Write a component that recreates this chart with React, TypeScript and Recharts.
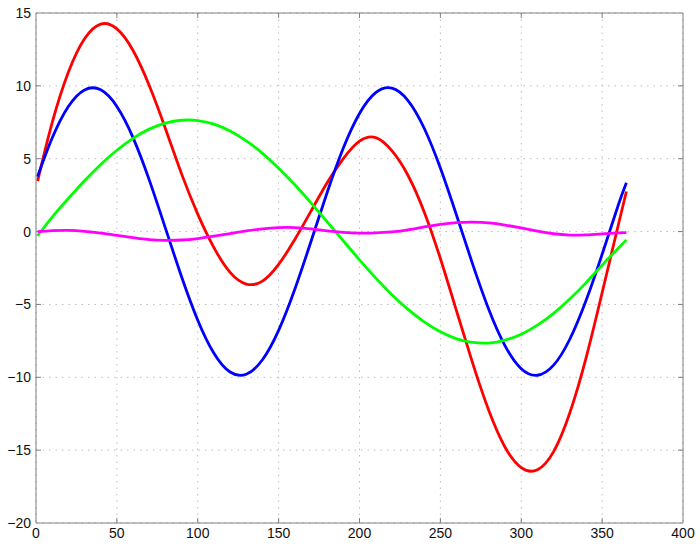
import React from "react";
import { CartesianGrid, Line, LineChart, ReferenceLine, XAxis, YAxis } from "recharts";

const days = [1, 10, 20, 30, 40, 50, 60, 70, 80, 90, 100, 110, 120, 130, 140, 150, 160, 170, 180, 190, 200, 210, 220, 230, 240, 250, 260, 270, 280, 290, 300, 310, 320, 330, 340, 350, 360, 365];

const total = [3.46, 7.47, 10.93, 13.23, 14.24, 13.91, 12.43, 10.03, 7.08, 3.96, 1.2, -1.1, -2.8, -3.6, -3.4, -2.25, -0.55, 1.4, 3.35, 5.0, 6.2, 6.45, 5.55, 3.85, 1.35, -1.85, -5.45, -9.05, -12.3, -14.8, -16.2, -16.35, -15.1, -12.45, -8.7, -4.2, 0.45, 2.75];

const obliquity = [3.78, 6.42, 8.58, 9.72, 9.73, 8.59, 6.45, 3.55, 0.24, -3.1, -6.08, -8.35, -9.64, -9.79, -8.8, -6.78, -3.96, -0.68, 2.68, 5.73, 8.1, 9.53, 9.84, 8.99, 7.09, 4.36, 1.12, -2.25, -5.36, -7.84, -9.41, -9.86, -9.17, -7.39, -4.75, -1.56, 1.82, 3.35];

const eccentricity = [-0.29, 0.99, 2.27, 3.49, 4.61, 5.58, 6.4, 7.03, 7.44, 7.64, 7.62, 7.37, 6.9, 6.22, 5.37, 4.35, 3.21, 1.97, 0.67, -0.64, -1.94, -3.18, -4.33, -5.34, -6.2, -6.88, -7.36, -7.61, -7.65, -7.45, -7.04, -6.42, -5.61, -4.63, -3.52, -2.3, -1.15, -0.57];

const residual = [-0.01, 0.06, 0.08, 0.02, -0.1, -0.26, -0.42, -0.55, -0.6, -0.58, -0.48, -0.32, -0.14, 0.04, 0.18, 0.27, 0.27, 0.18, 0.05, -0.05, -0.1, -0.09, -0.02, 0.12, 0.32, 0.5, 0.62, 0.65, 0.6, 0.45, 0.25, 0.03, -0.15, -0.24, -0.23, -0.16, -0.09, -0.07];

const xTicks = [0, 50, 100, 150, 200, 250, 300, 350, 400];
const yTicks = [-20, -15, -10, -5, 0, 5, 10, 15];

const data = days.map((d, i) => ({
  day: d,
  total: total[i],
  obliquity: obliquity[i],
  eccentricity: eccentricity[i],
  residual: residual[i]
}));

const frame = "#808080";
const tickFont = { fontSize: 14, fill: "#111", fontFamily: "Liberation Sans, Arial, sans-serif" };

// inward tick marks, MATLAB style
const tx = 3.1;
const ty = 0.34;

export default function App() {
  return (
    <div style={{ position: "absolute", left: 0, top: 0, width: 700, height: 549, background: "#fff" }}>
      <LineChart width={700} height={549} data={data} margin={{ top: 13, right: 17, bottom: 0, left: 0 }}>
        <CartesianGrid stroke="#bdbdbd" strokeDasharray="1.5 5" />
        <XAxis
          dataKey="day"
          type="number"
          domain={[0, 400]}
          ticks={xTicks}
          height={26}
          tickSize={0}
          tickMargin={5}
          tickLine={false}
          axisLine={{ stroke: frame }}
          tick={tickFont}
          interval={0}
        />
        <YAxis
          type="number"
          domain={[-20, 15]}
          ticks={yTicks}
          width={36}
          tickSize={0}
          tickMargin={5}
          tickLine={false}
          axisLine={{ stroke: frame }}
          tick={tickFont}
          interval={0}
          tickFormatter={(v: number) => (v < 0 ? "\u2212" + Math.abs(v) : String(v))}
        />
        <ReferenceLine y={15} stroke={frame} />
        <ReferenceLine x={400} stroke={frame} />
        {xTicks.slice(1, -1).map((t) => (
          <ReferenceLine key={"xb" + t} segment={[{ x: t, y: -20 }, { x: t, y: -20 + ty }]} stroke={frame} />
        ))}
        {xTicks.slice(1, -1).map((t) => (
          <ReferenceLine key={"xt" + t} segment={[{ x: t, y: 15 }, { x: t, y: 15 - ty }]} stroke={frame} />
        ))}
        {yTicks.slice(1, -1).map((t) => (
          <ReferenceLine key={"yl" + t} segment={[{ x: 0, y: t }, { x: tx, y: t }]} stroke={frame} />
        ))}
        {yTicks.slice(1, -1).map((t) => (
          <ReferenceLine key={"yr" + t} segment={[{ x: 400, y: t }, { x: 400 - tx, y: t }]} stroke={frame} />
        ))}
        <Line type="natural" dataKey="total" stroke="#ff0000" strokeWidth={2.8} dot={false} activeDot={false} isAnimationActive={false} />
        <Line type="natural" dataKey="obliquity" stroke="#0000ff" strokeWidth={2.8} dot={false} activeDot={false} isAnimationActive={false} />
        <Line type="natural" dataKey="eccentricity" stroke="#00ff00" strokeWidth={2.8} dot={false} activeDot={false} isAnimationActive={false} />
        <Line type="natural" dataKey="residual" stroke="#ff00ff" strokeWidth={2.8} dot={false} activeDot={false} isAnimationActive={false} />
      </LineChart>
    </div>
  );
}
